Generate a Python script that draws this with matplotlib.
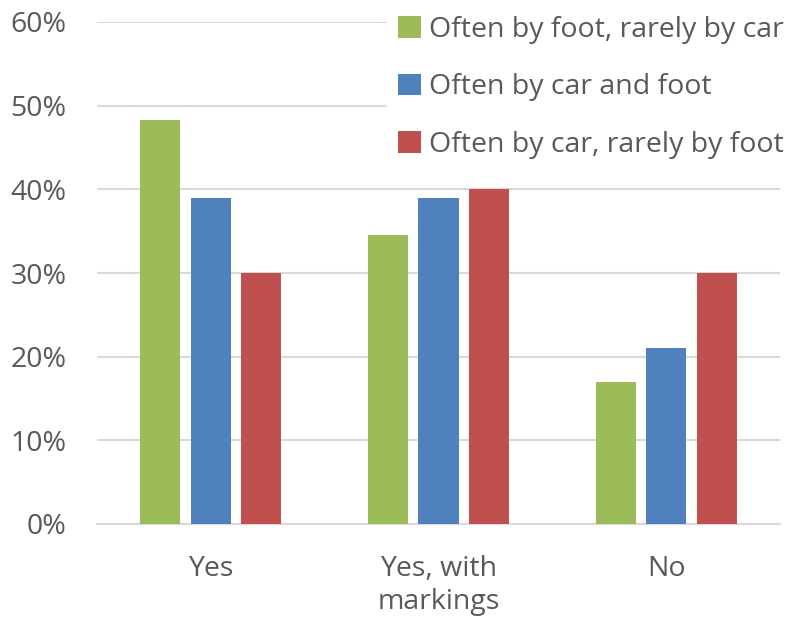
import matplotlib.pyplot as plt
import numpy as np

categories = ['Yes', 'Yes, with\nmarkings', 'No']
series_names = ['Often by foot, rarely by car', 'Often by car and foot', 'Often by car, rarely by foot']
foot_rarely_car = [48.3, 34.5, 17.0]
car_and_foot = [39.0, 39.0, 21.0]
car_rarely_foot = [30.0, 40.0, 30.0]
colors = ['#9BBB59', '#4F81BD', '#C0504D']

plt.rcParams['font.family'] = ['Open Sans', 'DejaVu Sans']
text_color = '#595959'

fig = plt.figure(figsize=(7.93, 6.25), dpi=100)
ax = fig.add_axes([0.122, 0.1616, 0.862, 0.8032])

x = np.arange(len(categories))
width = 0.176
step = 0.222
for i, (vals, name) in enumerate(zip([foot_rarely_car, car_and_foot, car_rarely_foot], series_names)):
    ax.bar(x + (i - 1) * step, vals, width, color=colors[i], label=name, zorder=3)

ax.set_xlim(-0.5, 2.5)
ax.set_ylim(0, 60)
ax.set_yticks(range(0, 61, 10))
ax.set_yticklabels([f'{v}%' for v in range(0, 61, 10)])
ax.set_xticks(x)
ax.set_xticklabels(categories, linespacing=1.28)
ax.grid(axis='y', color='#D9D9D9', linewidth=1.5, zorder=0)
for s in ['top', 'right', 'left']:
    ax.spines[s].set_visible(False)
ax.spines['bottom'].set_color('#D9D9D9')
ax.spines['bottom'].set_linewidth(1.5)
ax.tick_params(axis='both', length=0, labelsize=20.5, colors=text_color)
ax.tick_params(axis='x', pad=22)
ax.tick_params(axis='y', pad=22)

leg = ax.legend(loc='upper right', bbox_to_anchor=(1.022, 1.035), frameon=True, fontsize=20.5,
                handlelength=0.8, handleheight=0.8, handletextpad=0.3, labelspacing=1.04,
                borderaxespad=0)
leg.get_frame().set_facecolor('white')
leg.get_frame().set_edgecolor('white')
leg.get_frame().set_alpha(1)
for t in leg.get_texts():
    t.set_color(text_color)

fig.savefig('out.png', dpi=100)
